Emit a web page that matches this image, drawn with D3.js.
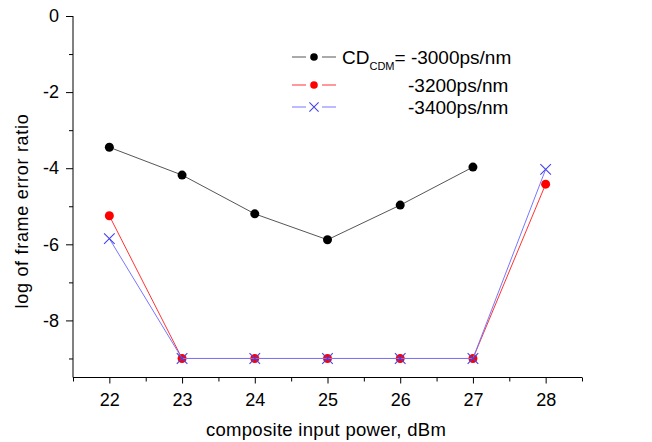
<!DOCTYPE html>
<head>
  <meta charset="utf-8" />
  <script src="https://d3js.org/d3.v7.min.js"></script>
  <style>
    body { margin: 0; background: #fff; }
    text { font-family: "Liberation Sans", Arial, sans-serif; fill: #000; }
  </style>
</head>
<body>
  <script>
    var power = [22, 23, 24, 25, 26, 27, 28];
    var cd3000 = [-3.45, -4.18, -5.2, -5.88, -4.97, -3.97, null];
    var cd3200 = [-5.25, -9, -9, -9, -9, -9, -4.42];
    var cd3400 = [-5.85, -9, -9, -9, -9, -9, -4.03];
    var xTicks = [22, 23, 24, 25, 26, 27, 28];
    var yTicks = [0, -2, -4, -6, -8];

    var width = 652, height = 442;
    var svg = d3.select("body").append("svg")
      .attr("width", width).attr("height", height);

    var x = d3.scaleLinear().domain([21.5, 28.5]).range([73, 582]);
    var y = d3.scaleLinear().domain([-9.5, 0]).range([377.5, 16]);

    // axes: major ticks long, minor ticks short
    var xAxis = svg.append("g").attr("transform", "translate(0,377.5)")
      .call(d3.axisBottom(x).tickValues(d3.range(21.5, 28.51, 0.5)).tickSize(6)
        .tickFormat(function (d) { return xTicks.indexOf(d) >= 0 ? d : ""; }));
    xAxis.select(".domain").attr("d", "M73,0H582");
    xAxis.selectAll(".tick line").attr("y2", function (d) { return xTicks.indexOf(d) >= 0 ? 6 : 4; });
    xAxis.selectAll("text").style("font-size", "18px").attr("y", 10).attr("dy", "1em");

    var yAxis = svg.append("g").attr("transform", "translate(73,0)")
      .call(d3.axisLeft(y).tickValues(d3.range(-9, 0.01, 1)).tickSize(7)
        .tickFormat(function (d) { return yTicks.indexOf(d) >= 0 ? d : ""; }));
    yAxis.select(".domain").attr("d", "M0,377.5V16");
    yAxis.selectAll(".tick line").attr("x2", function (d) { return yTicks.indexOf(d) >= 0 ? -7 : -4; });
    yAxis.selectAll("text").style("font-size", "18px").attr("x", -14);

    svg.append("text").attr("x", 326).attr("y", 436).attr("text-anchor", "middle")
      .style("font-size", "18.5px").style("letter-spacing", "0.3px")
      .text("composite input power, dBm");
    svg.append("text").attr("transform", "translate(28,211) rotate(-90)")
      .attr("text-anchor", "middle").style("font-size", "18px").style("letter-spacing", "0.7px")
      .text("log of frame error ratio");

    var series = [
      { values: cd3000, color: "#000", line: "#555", marker: "dot" },
      { values: cd3200, color: "#f00", line: "#f33", marker: "dot" },
      { values: cd3400, color: "#4444e8", line: "#7777ff", marker: "cross" }
    ];

    var line = d3.line()
      .defined(function (d) { return d[1] !== null; })
      .x(function (d) { return x(d[0]); })
      .y(function (d) { return y(d[1]); });

    function drawMarker(g, kind, color, cx, cy, r) {
      if (kind === "dot") {
        g.append("circle").attr("cx", cx).attr("cy", cy).attr("r", r).attr("fill", color);
      } else {
        var h = r + 0.8;
        g.append("path")
          .attr("d", "M" + (cx - h) + "," + (cy - h) + "L" + (cx + h) + "," + (cy + h) +
            "M" + (cx - h) + "," + (cy + h) + "L" + (cx + h) + "," + (cy - h))
          .attr("stroke", color).attr("stroke-width", 1.1).attr("fill", "none");
      }
    }

    series.forEach(function (s) {
      var pts = power.map(function (p, i) { return [p, s.values[i]]; });
      svg.append("path").datum(pts).attr("d", line)
        .attr("fill", "none").attr("stroke", s.line).attr("stroke-width", 1);
      var g = svg.append("g");
      pts.forEach(function (d) {
        if (d[1] !== null) drawMarker(g, s.marker, s.color, x(d[0]), y(d[1]), 4.5);
      });
    });

    // legend
    var legendLabels = ["-3000ps/nm", "-3200ps/nm", "-3400ps/nm"];
    var legendY = [57, 85, 107];
    var lg = svg.append("g");
    series.forEach(function (s, i) {
      var ly = legendY[i];
      lg.append("path").attr("d", "M292," + ly + "H306M322," + ly + "H336")
        .attr("stroke", s.line).attr("stroke-width", 1);
      drawMarker(lg, s.marker, s.color, 314, ly, 3.8);
      if (i === 0) {
        var t = lg.append("text").attr("x", 342).attr("y", ly + 6.5).style("font-size", "19px");
        t.append("tspan").text("CD");
        t.append("tspan").attr("dy", 6).style("font-size", "11px").text("CDM");
        t.append("tspan").attr("dy", -6).text("= " + legendLabels[i]);
      } else {
        lg.append("text").attr("x", 408).attr("y", ly + 6.5).style("font-size", "19px")
          .text(legendLabels[i]);
      }
    });
  </script>
</body>
